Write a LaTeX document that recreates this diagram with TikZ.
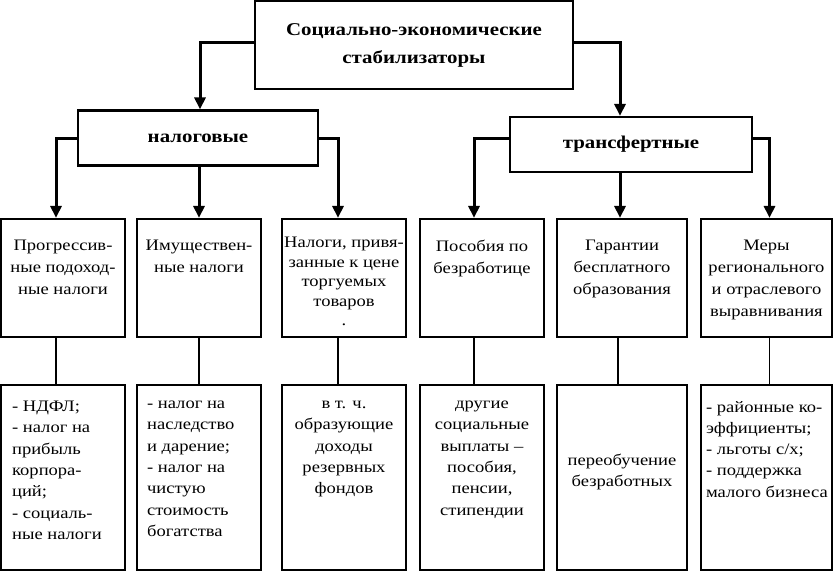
\documentclass[tikz,border=0pt]{standalone}
\usepackage{fontspec}
\setmainfont[FakeStretch=1.16]{Liberation Serif}
\usetikzlibrary{arrows.meta,positioning}

\begin{document}
\begin{tikzpicture}[x=1pt,y=-1pt,
    box/.style={draw,line width=2.2pt,inner sep=0pt},
    head/.style={box,align=center,font=\fontsize{18}{28}\selectfont\bfseries},
    cell/.style={box,minimum width=124pt,minimum height=118pt},
    leaf/.style={box,minimum width=124pt,minimum height=185pt},
    txt/.style={inner sep=0pt,align=center,execute at begin node={\rule{0pt}{12pt}},
      font=\fontsize{16}{21.3}\selectfont},
    ctxt/.style={txt,font=\fontsize{16}{22}\selectfont},
    ltxt/.style={txt,align=left},
    feed/.style={line width=3pt,-{Triangle[length=12pt,width=11pt]}},
    link/.style={line width=1.8pt}]
  \useasboundingbox (0,0) rectangle (839,571);

  % top levels
  \node[head,minimum width=318pt,minimum height=88pt] (stab) at (414,45)
    {Социально-экономические\\стабилизаторы};
  \node[head,minimum width=240pt,minimum height=55pt] (nal) at (198,138)
    {налоговые};
  \node[head,minimum width=242pt,minimum height=55pt] (tra) at (631,144.5)
    {трансфертные};

  % kinds of stabilizers
  \node[cell] (p1) at (63,278) {};
  \node[cell] (p2) at (199,278) {};
  \node[cell] (p3) at (344,278) {};
  \node[cell] (p4) at (482,278) {};
  \node[cell,minimum width=130pt] (p5) at (622,278) {};
  \node[cell,minimum width=131pt] (p6) at (766.5,278) {};

  \node[ctxt,below=22pt of p1.north] (p1t)
    {Прогрессив-\\ные подоход-\\ные налоги};
  \node[ctxt,below=22pt of p2.north] (p2t)
    {Имуществен-\\ные налоги};
  \node[txt,font=\fontsize{16}{19.5}\selectfont,below=19pt of p3.north] (p3t)
    {Налоги, привя-\\занные к цене\\торгуемых\\товаров\\.};
  \node[ctxt,below=22pt of p4.north] (p4t)
    {Пособия по\\безработице};
  \node[ctxt,below=22pt of p5.north] (p5t)
    {Гарантии\\бесплатного\\образования};
  \node[ctxt,below=22pt of p6.north] (p6t)
    {Меры\\регионального\\и отраслевого\\выравнивания};

  % details
  \node[leaf] (d1) at (63,477.5) {};
  \node[leaf] (d2) at (199,477.5) {};
  \node[leaf] (d3) at (344,477.5) {};
  \node[leaf] (d4) at (482,477.5) {};
  \node[leaf,minimum width=130pt] (d5) at (622,477.5) {};
  \node[leaf,minimum width=131pt] (d6) at (766.5,477.5) {};

  \node[ltxt,below right=17pt and 12pt of d1.north west] (d1t)
    {- НДФЛ;\\- налог на\\прибыль\\корпора-\\ций;\\- социаль-\\ные налоги};
  \node[ltxt,below right=17pt and 11pt of d2.north west] (d2t)
    {- налог на\\наследство\\и дарение;\\- налог на\\чистую\\стоимость\\богатства};
  \node[txt,below=17pt of d3.north] (d3t)
    {в т. ч.\\образующие\\доходы\\резервных\\фондов};
  \node[txt,below=17pt of d4.north] (d4t)
    {другие\\социальные\\выплаты –\\пособия,\\пенсии,\\стипендии};
  \node[txt,below=70pt of d5.north] (d5t)
    {переобучение\\безработных};
  \node[ltxt,below right=17pt and 6pt of d6.north west] (d6t)
    {- районные ко-\\эффициенты;\\- льготы с/х;\\- поддержка\\малого бизнеса};

  % connectors
  \draw[feed] ([yshift=3pt]stab.west) -| ([xshift=2pt]nal.north);
  \draw[feed] ([yshift=3pt]stab.east) -| ([xshift=-11pt]tra.north);

  \draw[feed] (nal.west) -| ([xshift=-7pt]p1.north);
  \draw[feed] ([xshift=1pt]nal.south) -- ([xshift=1pt]nal.south |- p2.north);
  \draw[feed] (nal.east) -| ([xshift=-6pt]p3.north);
  \draw[feed] ([yshift=6pt]tra.west) -| ([xshift=-8pt]p4.north);
  \draw[feed] ([xshift=-11pt]tra.south) -- ([xshift=-11pt]tra.south |- p5.north);
  \draw[feed] ([yshift=6pt]tra.east) -| ([xshift=3pt]p6.north);

  \draw[link] ([xshift=-7pt]p1.south) -- ([xshift=-7pt]d1.north);
  \draw[link] (p2.south) -- (d2.north);
  \draw[link] ([xshift=-6pt]p3.south) -- ([xshift=-6pt]d3.north);
  \draw[link] ([xshift=-8pt]p4.south) -- ([xshift=-8pt]d4.north);
  \draw[link] ([xshift=-4pt]p5.south) -- ([xshift=-4pt]d5.north);
  \draw[link] ([xshift=3pt]p6.south) -- ([xshift=3pt]d6.north);
\end{tikzpicture}
\end{document}
